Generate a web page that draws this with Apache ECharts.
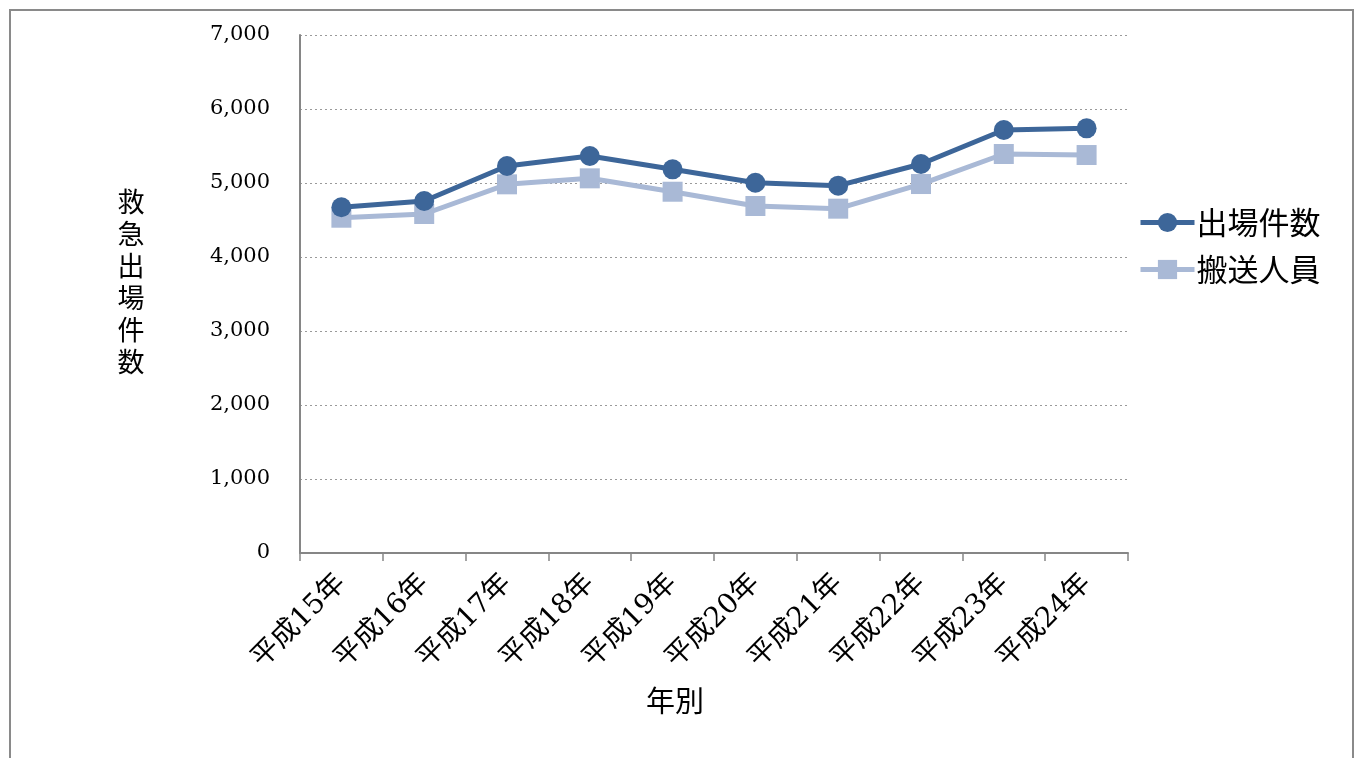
<!DOCTYPE html>
<html><head><meta charset="utf-8">
<script src="https://cdn.jsdelivr.net/npm/echarts@6/dist/echarts.min.js"></script>
<style>html,body{margin:0;padding:0;background:#fff}#c{width:1364px;height:758px}</style>
</head><body><div id="c"></div>
<script>
const categories = ['平成15年','平成16年','平成17年','平成18年','平成19年','平成20年','平成21年','平成22年','平成23年','平成24年'];
const dispatches = [4672, 4757, 5230, 5365, 5185, 5004, 4964, 5257, 5716, 5739];
const transported = [4531, 4581, 4982, 5063, 4882, 4689, 4653, 4986, 5392, 5378];
const seriesNames = ['出場件数', '搬送人員'];
const yTicks = [0, 1000, 2000, 3000, 4000, 5000, 6000, 7000];
const yAxisTitle = '救急出場件数';
const xAxisTitle = '年別';

const serif = '"DejaVu Serif", "Noto Sans CJK JP", serif';
const cjk = '"Noto Sans CJK JP", sans-serif';
const chart = echarts.init(document.getElementById('c'));
chart.setOption({
  animation: false,
  backgroundColor: '#fff',
  graphic: [{
    type: 'rect', shape: {x: 10, y: 10, width: 1343, height: 800},
    style: {fill: 'none', stroke: '#8a8a8a', lineWidth: 2}, silent: true
  }, {
    type: 'text', x: 131, y: 282,
    style: {text: yAxisTitle.split('').join('\n'), fontSize: 27, lineHeight: 32,
      fontFamily: cjk, fill: '#000', align: 'center', verticalAlign: 'middle'},
    silent: true
  }],
  grid: {left: 300, right: 236, top: 35, bottom: 205},
  legend: {
    orient: 'vertical', left: 1133, top: 202, itemGap: 16,
    itemWidth: 54, itemHeight: 24,
    lineStyle: {width: 5},
    textStyle: {fontSize: 31, color: '#000', fontFamily: cjk, padding: [0, 0, 0, -3]},
    data: seriesNames
  },
  xAxis: {
    type: 'category', data: categories, boundaryGap: true,
    name: xAxisTitle, nameLocation: 'middle', nameGap: 133,
    nameTextStyle: {fontSize: 29, color: '#000', fontFamily: cjk, padding: [0, 78, 0, 0]},
    axisLine: {lineStyle: {color: '#868686', width: 2}},
    axisTick: {show: true, alignWithLabel: false, length: 8, lineStyle: {color: '#868686', width: 1.5}},
    axisLabel: {rotate: 45, fontSize: 28, color: '#000', fontFamily: serif, margin: 26, interval: 0}
  },
  yAxis: {
    type: 'value', min: yTicks[0], max: yTicks[yTicks.length - 1], interval: 1000,
    axisLine: {show: true, lineStyle: {color: '#868686', width: 2}},
    axisTick: {show: false},
    splitLine: {show: true, lineStyle: {color: '#9a9a9a', type: [2, 3], width: 1}},
    axisLabel: {fontSize: 21, color: '#000', fontFamily: serif, margin: 30,
      formatter: v => v.toLocaleString('en-US')}
  },
  series: [
    {name: seriesNames[0], type: 'line', data: dispatches, symbol: 'circle', symbolSize: 20,
     itemStyle: {color: '#3D6699'}, lineStyle: {color: '#3D6699', width: 5}, z: 3},
    {name: seriesNames[1], type: 'line', data: transported, symbol: 'rect', symbolSize: 20,
     itemStyle: {color: '#A9B9D6'}, lineStyle: {color: '#A9B9D6', width: 5}, z: 2}
  ]
});
</script></body></html>
